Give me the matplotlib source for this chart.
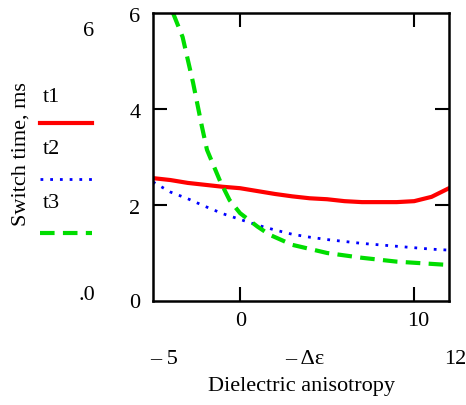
import matplotlib
matplotlib.use("Agg")
from matplotlib import pyplot as plt
import numpy as np

# dielectric anisotropy values
x_t1 = [-5, -4, -3, -2, -1, 0, 1, 2, 3, 4, 5, 6, 7, 8, 9, 10, 11, 12]
t1 = [2.56, 2.52, 2.46, 2.42, 2.38, 2.35, 2.29, 2.23, 2.18, 2.14, 2.12, 2.08,
      2.06, 2.06, 2.06, 2.08, 2.17, 2.35]

x_t2 = [-5, -4, -3, -2, -1, 0, 1, 2, 3, 4, 5, 6, 7, 8, 9, 10, 11, 12]
t2 = [2.48, 2.27, 2.13, 1.97, 1.82, 1.70, 1.58, 1.48, 1.39, 1.33, 1.28, 1.24,
      1.20, 1.17, 1.14, 1.11, 1.08, 1.06]

x_t3 = [-3.85, -3.3, -2.7, -2.2, -1.9, -1.15, -0.6, 0, 1, 1.7, 3, 5, 7, 9, 12]
t3 = [6.0, 5.5, 4.55, 3.65, 3.15, 2.5, 2.1, 1.83, 1.55, 1.38, 1.17, 1.0,
      0.9, 0.82, 0.75]

W, H = 466, 405
serif = "Liberation Serif"
fs = 16

fig = plt.figure(figsize=(W / 100, H / 100), dpi=100)
ax = fig.add_axes([153 / W, 1 - 301 / H, 296 / W, 288 / H])

red = "#ff0000"
blue = "#0000ff"
green = "#00dd00"

ax.plot(x_t1, t1, color=red, lw=3)
ax.plot(x_t2, t2, color=blue, lw=2, linestyle=(0, (1, 2.5)))
ax.plot(x_t3, t3, color=green, lw=3, linestyle=(0, (3.5, 2)))

ax.set_xlim(-5, 12)
ax.set_ylim(0, 6)
ax.set_xticks([0, 10])
ax.set_yticks([2, 4])
ax.tick_params(direction="in", length=10, width=1.5, top=True, right=True,
               labelbottom=False, labelleft=False)
for s in ax.spines.values():
    s.set_linewidth(1.8)


def px_text(x, y, s, **kw):
    kw.setdefault("ha", "center")
    kw.setdefault("va", "center")
    kw.setdefault("fontsize", fs)
    kw.setdefault("family", serif)
    fig.text(x / W, 1 - y / H, s, **kw)


# y tick labels
for lab, yy in [("6", 17), ("4", 113), ("2", 210), ("0", 304)]:
    px_text(135, yy, lab)

# x tick labels
px_text(241, 322, "0")
px_text(418, 322, "10")

# range row and axis title
px_text(164, 360, "– 5")
px_text(305, 360, "– Δε")
px_text(455, 360, "12")
px_text(302, 386, "Dielectric anisotropy")

# left side: range and legend
px_text(89, 31, "6")
px_text(87, 296, ".0")
px_text(21, 154, "Switch time, ms", rotation=90)

px_text(43, 97, "t1", ha="left")
px_text(43, 150, "t2", ha="left")
px_text(43, 203, "t3", ha="left")

leg_x = [40 / W, 92 / W]
fig.add_artist(plt.Line2D(leg_x, [1 - 123 / H] * 2, color=red, lw=3))
fig.add_artist(plt.Line2D(leg_x, [1 - 179 / H] * 2, color=blue, lw=2,
                          linestyle=(0, (1, 2.5))))
fig.add_artist(plt.Line2D(leg_x, [1 - 233 / H] * 2, color=green, lw=3,
                          linestyle=(0, (3.5, 2))))

fig.savefig("out.png", dpi=100)
